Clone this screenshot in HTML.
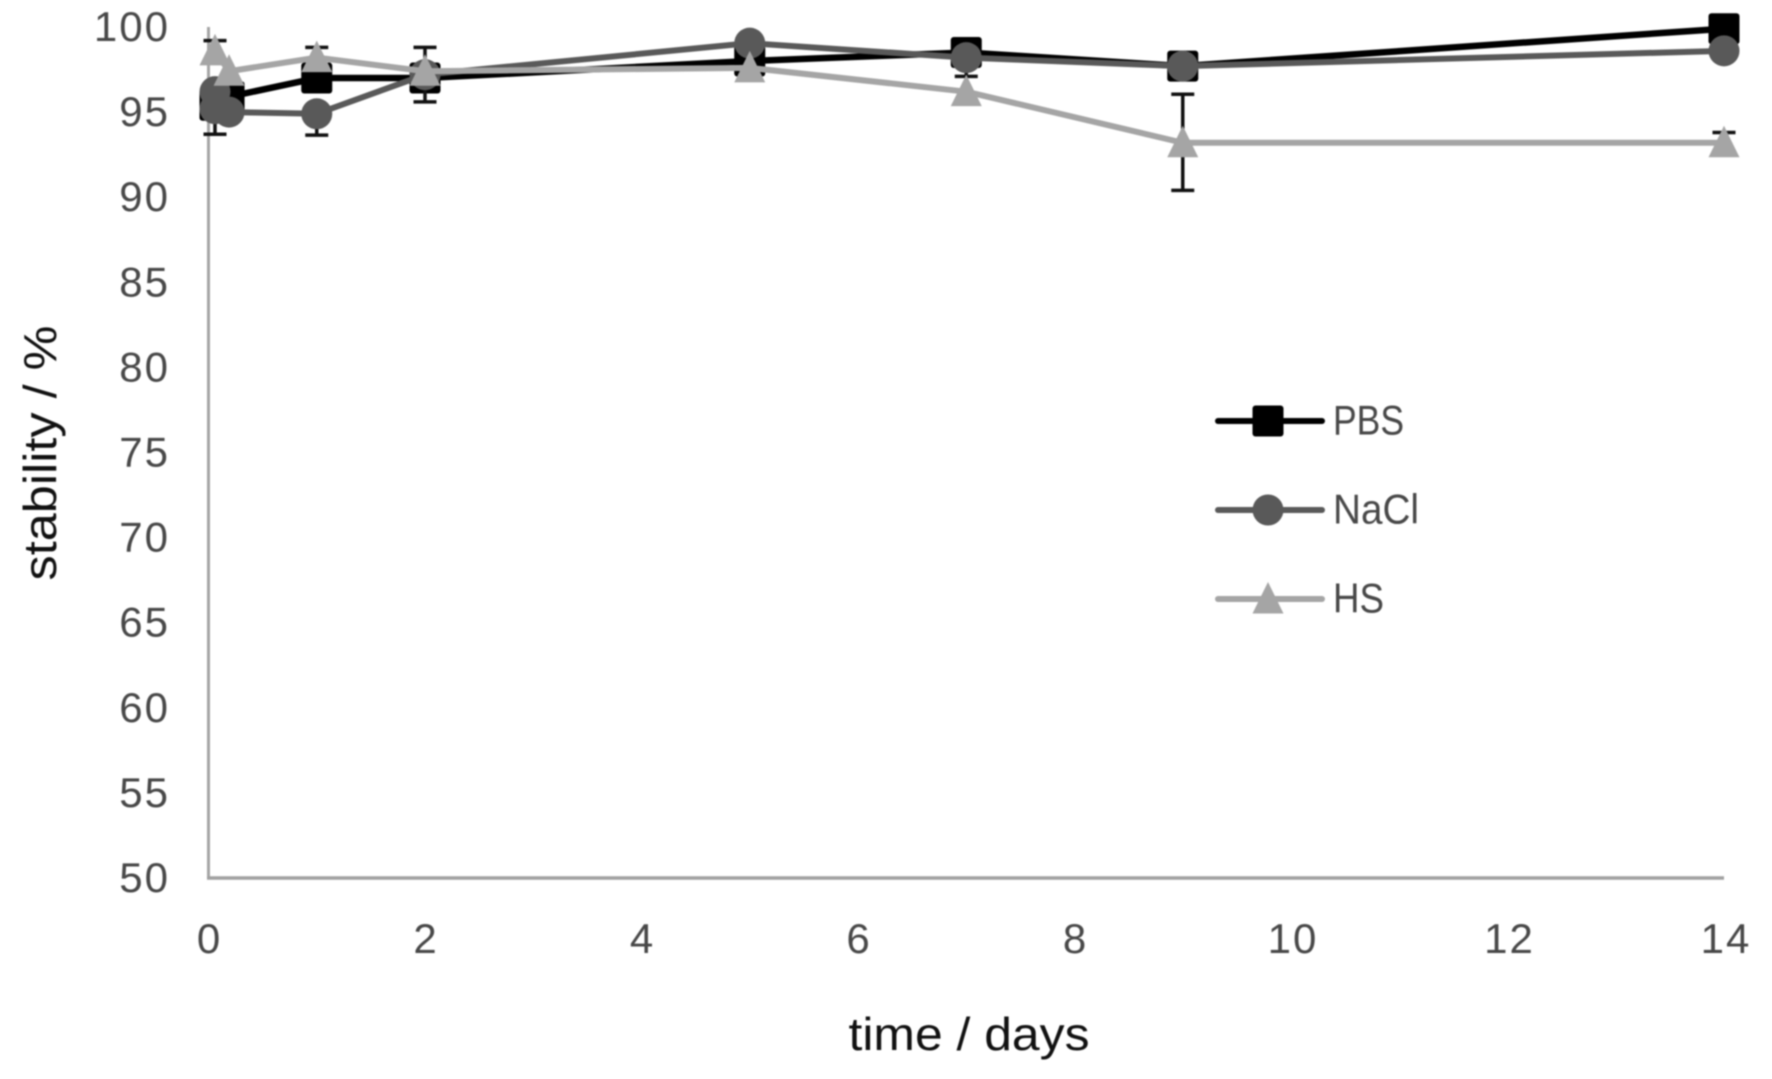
<!DOCTYPE html>
<html lang="en">
<head>
<meta charset="utf-8">
<title>Stability over time</title>
<style>
html,body{margin:0;padding:0;background:#fff;width:1772px;height:1079px;overflow:hidden}
svg{display:block;filter:blur(0.8px)}
text{font-family:"Liberation Sans",sans-serif}
</style>
</head>
<body>
<svg id="chart" xmlns="http://www.w3.org/2000/svg" width="1772" height="1079" viewBox="0 0 1772 1079"></svg>
<script>
const xTicks = [0, 2, 4, 6, 8, 10, 12, 14];
const yTicks = [50, 55, 60, 65, 70, 75, 80, 85, 90, 95, 100];
const seriesNames = ['PBS', 'NaCl', 'HS'];
const pbsTimes = [0.06, 0.19, 1, 2, 5, 7, 9, 14];
const pbsValues = [95.4, 95.9, 97, 97, 98, 98.5, 97.7, 99.9];
const pbsErrUp = [0, 0, 0, 0, 0, 0, 0, 0];
const pbsErrDown = [0, 0, 0, 0, 0, 1.4, 0, 0];
const naclTimes = [0.06, 0.06, 0.19, 1, 2, 5, 7, 9, 14];
const naclValues = [96.2, 95.2, 95, 94.9, 97.2, 99.05, 98.2, 97.7, 98.6];
const naclErrUp = [0, 0, 0, 0, 1.6, 0, 0, 0, 0];
const naclErrDown = [0, 1.5, 0, 1.25, 1.6, 0, 0, 0, 0];
const hsTimes = [0.06, 0.19, 1, 2, 5, 7, 9, 14];
const hsValues = [98.6, 97.4, 98.2, 97.4, 97.6, 96.2, 93.2, 93.2];
const hsErrUp = [0.6, 0, 0.6, 0, 0, 0, 2.85, 0.6];
const hsErrDown = [0, 0, 0, 0, 0, 0, 2.8, 0];

const NS = 'http://www.w3.org/2000/svg';
const svg = document.getElementById('chart');
const X0 = 208.5, XPD = 108.25, Y50 = 878, YPU = 17.02;
const xScale = function (t) { return X0 + t * XPD; };
const yScale = function (v) { return Y50 - (v - 50) * YPU; };

function make(tag, attrs, parent, content) {
  const el = document.createElementNS(NS, tag);
  for (const k in attrs) el.setAttribute(k, attrs[k]);
  if (content !== undefined) el.textContent = content;
  (parent || svg).appendChild(el);
  return el;
}
function drawMarker(kind, cx, cy, color, parent) {
  if (kind === 0) {
    return make('rect', { x: cx - 15.5, y: cy - 15.5, width: 31, height: 31, rx: 3, fill: color }, parent);
  }
  if (kind === 1) {
    return make('circle', { cx: cx, cy: cy, r: 15.5, fill: color }, parent);
  }
  return make('polygon', { points: (cx) + ',' + (cy - 17) + ' ' + (cx + 15.5) + ',' + (cy + 14.5) + ' ' + (cx - 15.5) + ',' + (cy + 14.5), fill: color }, parent);
}

/* axes */
const yAxis = make('line', { x1: xScale(0), y1: yScale(100), x2: xScale(0), y2: yScale(50), stroke: '#a5a5a5', 'stroke-width': 3 });


const xAxis = make('line', { x1: xScale(0) - 1.5, y1: yScale(50), x2: xScale(14), y2: yScale(50), stroke: '#a0a0a0', 'stroke-width': 3.5 });



/* tick labels */
yTicks.forEach(function (v) {
  const t = make('text', { x: 170, y: yScale(v) + 14, 'text-anchor': 'end', 'font-size': 42, 'letter-spacing': 2, fill: '#484848' }, svg, String(v));
  
  
});
xTicks.forEach(function (v) {
  const t = make('text', { x: xScale(v) + (v > 9 ? 2 : 0), y: 953, 'text-anchor': 'middle', 'font-size': 42, 'letter-spacing': v > 9 ? 2 : 0, fill: '#484848' }, svg, String(v));
  
  
});

/* axis titles */
const xTitle = make('text', { x: 969, y: 1050, 'text-anchor': 'middle', 'font-size': 46, fill: '#111', textLength: 241, lengthAdjust: 'spacingAndGlyphs' }, svg, 'time / days');


const yTitle = make('text', { x: 0, y: 0, transform: 'translate(56 453) rotate(-90)', 'text-anchor': 'middle', 'font-size': 46, fill: '#111', textLength: 255, lengthAdjust: 'spacingAndGlyphs' }, svg, 'stability / %');



/* series */
const seriesList = [
  { times: pbsTimes, values: pbsValues, up: pbsErrUp, down: pbsErrDown, color: '#000000', lw: 6.5 },
  { times: naclTimes, values: naclValues, up: naclErrUp, down: naclErrDown, color: '#595959', lw: 6 },
  { times: hsTimes, values: hsValues, up: hsErrUp, down: hsErrDown, color: '#a5a5a5', lw: 6 }
];
seriesList.forEach(function (s, idx) {
  const g = make('g', {});
  
  
  s.times.forEach(function (t, i) {
    const cx = xScale(t), v = s.values[i];
    const hi = s.up[i], lo = s.down[i];
    if (!hi && !lo) return;
    const eb = make('path', {
      d: 'M' + cx + ' ' + yScale(v + hi) + 'V' + yScale(v - lo) +
         (hi ? 'M' + (cx - 11.5) + ' ' + yScale(v + hi) + 'H' + (cx + 11.5) : '') +
         (lo ? 'M' + (cx - 11.5) + ' ' + yScale(v - lo) + 'H' + (cx + 11.5) : ''),
      stroke: '#111', 'stroke-width': 3.5, fill: 'none'
    }, g);
    
    
  });
  const pts = s.times.map(function (t, i) { return xScale(t) + ',' + yScale(s.values[i]); }).join(' ');
  const line = make('polyline', { points: pts, fill: 'none', stroke: s.color, 'stroke-width': s.lw, 'stroke-linejoin': 'round', 'stroke-linecap': 'round' }, g);
  
  
  s.times.forEach(function (t, i) {
    const m = drawMarker(idx, xScale(t), yScale(s.values[i]), s.color, g);
    
    
  });
});

/* legend */
const legendWidths = [71, 86, 51];
seriesNames.forEach(function (name, i) {
  const cy = 421 + i * 89;
  const g = make('g', {});
  
  
  make('line', { x1: 1218, y1: cy, x2: 1322, y2: cy, stroke: seriesList[i].color, 'stroke-width': 6, 'stroke-linecap': 'round' }, g);
  drawMarker(i, 1268, cy, seriesList[i].color, g);
  make('text', { x: 1333, y: cy + 13.5, 'font-size': 42, fill: '#484848', textLength: legendWidths[i], lengthAdjust: 'spacingAndGlyphs' }, g, name);
});
</script>
</body>
</html>
